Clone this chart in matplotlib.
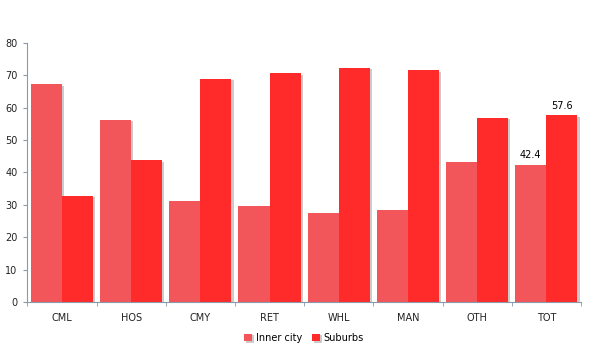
import numpy as np
import matplotlib.pyplot as plt
import matplotlib.patheffects as pe

categories = ["CML", "HOS", "CMY", "RET", "WHL", "MAN", "OTH", "TOT"]
inner_city = [67.2, 56.3, 31.2, 29.5, 27.6, 28.5, 43.2, 42.4]
suburbs = [32.8, 43.8, 69.0, 70.6, 72.4, 71.5, 56.8, 57.6]

fig = plt.figure(figsize=(5.94, 3.52), dpi=100)
ax = fig.add_axes([0.046, 0.142, 0.932, 0.736])

x = np.arange(len(categories))
w = 0.45
shadow = [pe.SimplePatchShadow(offset=(1.5, -1), shadow_rgbFace="#999999", alpha=0.5), pe.Normal()]
ax.bar(x - w / 2, inner_city, w, color="#F2565A", label="Inner city", path_effects=shadow)
ax.bar(x + w / 2, suburbs, w, color="#FF2A2A", label="Suburbs", path_effects=shadow)

# data labels only on the total group
ax.text(x[-1] - w / 2, inner_city[-1] + 1.5, f"{inner_city[-1]}", ha="center", va="bottom", fontsize=7)
ax.text(x[-1] + w / 2, suburbs[-1] + 1.5, f"{suburbs[-1]}", ha="center", va="bottom", fontsize=7)

ax.set_xlim(-0.5, len(categories) - 0.5)
ax.set_ylim(0, 80)
ax.set_yticks(range(0, 81, 10))
ax.set_xticks(x)
ax.set_xticklabels(categories)
ax.set_xticks(np.arange(-0.5, len(categories)), minor=True)
ax.tick_params(axis="x", which="major", length=0, pad=8, labelsize=7, labelcolor="#222222")
ax.tick_params(axis="x", which="minor", length=3, color="#8899AA")
ax.tick_params(axis="y", length=3, color="#8899AA", labelsize=7, pad=4, labelcolor="#222222")

for s in ["top", "right"]:
    ax.spines[s].set_visible(False)
for s in ["left", "bottom"]:
    ax.spines[s].set_color("#8899AA")
    ax.spines[s].set_linewidth(0.8)

ax.legend(loc="upper center", bbox_to_anchor=(0.5, -0.085), ncol=2, frameon=False,
          fontsize=7, handlelength=0.8, handleheight=0.8, handletextpad=0.4, columnspacing=1.0)

plt.savefig("out.png", dpi=100)
